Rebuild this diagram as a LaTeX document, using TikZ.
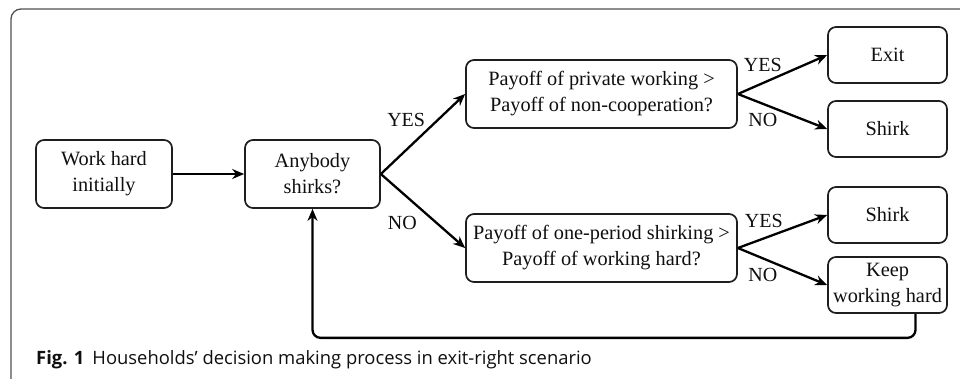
\documentclass[tikz,border=0pt]{standalone}
\usepackage{fontspec}
\setmainfont{Liberation Serif}
\newfontfamily\capfont{Open Sans}
\usetikzlibrary{arrows.meta}

\definecolor{linegray}{RGB}{30,30,30}
\definecolor{framegray}{RGB}{80,80,80}
\definecolor{textgray}{RGB}{15,15,15}

\tikzset{
  box/.style={draw=linegray, line width=1.7pt, rounded corners=8pt, align=center,
    text=textgray, font=\fontsize{20.3}{26}\selectfont, inner sep=1pt},
  smallbox/.style={box, minimum width=119pt, minimum height=56pt},
  bigbox/.style={box, minimum width=271pt, minimum height=68pt},
  arr/.style={draw=black, line width=2.3pt, -{Stealth[length=12pt,width=10pt]}},
  lbl/.style={text=textgray, font=\fontsize{20}{20}\selectfont, inner sep=0pt}
}

\begin{document}
\begin{tikzpicture}[x=1pt,y=1pt,yscale=-1]
  \clip (0,0) rectangle (960,378);
  % frame
  \draw[framegray, line width=1.3pt, rounded corners=10pt] (11,9) rectangle (990,400);

  % boxes
  \node[box, minimum width=136pt, minimum height=68pt] (work) at (104,174) {Work hard\\initially};
  \node[box, minimum width=135pt, minimum height=68pt] (any) at (312.5,174) {Anybody\\shirks?};
  \node[bigbox] (payA) at (601.5,94) {Payoff of private working >\\Payoff of non-cooperation?};
  \node[bigbox] (payB) at (601.5,248) {Payoff of one-period shirking >\\Payoff of working hard?};
  \node[smallbox] (exit) at (887.5,55) {Exit};
  \node[smallbox] (shirkA) at (887.5,129) {Shirk};
  \node[smallbox] (shirkB) at (887.5,215) {Shirk};
  \node[smallbox] (keep) at (887.5,285) {Keep\\working hard};

  % connectors
  \draw[arr] (work) -- (any);
  \draw[arr] (any.east) -- (payA.west) node[lbl, pos=0.55, anchor=south east, xshift=-1pt, yshift=2pt] {YES};
  \draw[arr] (any.east) -- (payB.west) node[lbl, pos=0.5, anchor=north east, xshift=-5pt, yshift=-4pt] {NO};
  \draw[arr] (payA.east) -- (exit.west) node[lbl, pos=0.28, above=10pt] {YES};
  \draw[arr] (payA.east) -- (shirkA.west) node[lbl, pos=0.28, below=8pt] {NO};
  \draw[arr] (payB.east) -- (shirkB.west) node[lbl, pos=0.29, above=10pt] {YES};
  \draw[arr] (payB.east) -- (keep.west) node[lbl, pos=0.28, below=9pt] {NO};
  \draw[arr, rounded corners=8pt] ([xshift=28pt]keep.south) -- ++(0,24) -| (any.south);

  % caption
  \node[anchor=base west, inner sep=0pt, text=textgray, font=\capfont\fontsize{18.4}{21}\selectfont] (cap) at (36,364)
    {\textbf{Fig. 1}\hspace{8pt}Households’ decision making process in exit-right scenario};
\end{tikzpicture}
\end{document}
